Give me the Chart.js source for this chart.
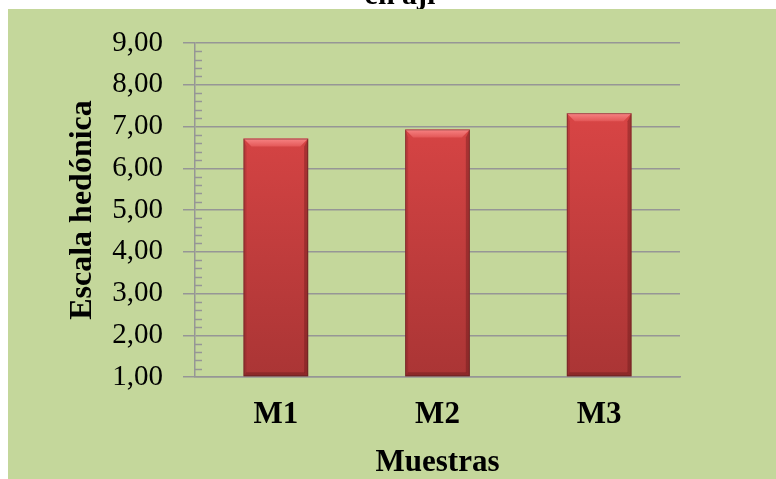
<!DOCTYPE html>
<html lang="es">
<head>
<meta charset="utf-8">
<title>Escala hedónica por muestra</title>
<script src="https://cdn.jsdelivr.net/npm/chart.js@4.4.1/dist/chart.umd.min.js"></script>
<style>
  html, body { margin: 0; padding: 0; background: #ffffff; }
  #wrap { width: 776px; height: 479px; }
</style>
</head>
<body>
<div id="wrap"><canvas id="hedonicChart" width="776" height="479"></canvas></div>
<script>
  const categories = ['M1', 'M2', 'M3'];
  const scores = [6.71, 6.93, 7.32];
  const yTickValues = [1, 2, 3, 4, 5, 6, 7, 8, 9];
  const yTickLabels = ['1,00', '2,00', '3,00', '4,00', '5,00', '6,00', '7,00', '8,00', '9,00'];

  const SERIF = '"Liberation Serif", "Times New Roman", serif';
  const GRID = '#969696';
  const PANEL = '#c4d79b';

  // panel background plus the tail of the title that sits above it
  const panelBackground = {
    id: 'panelBackground',
    beforeDraw(chart) {
      const { ctx, width, height } = chart;
      ctx.save();
      ctx.fillStyle = '#ffffff';
      ctx.fillRect(0, 0, width, height);
      ctx.fillStyle = '#000000';
      ctx.font = 'bold 30px ' + SERIF;
      ctx.textAlign = 'center';
      ctx.textBaseline = 'alphabetic';
      ctx.fillText('en ají', 400, 4);
      ctx.fillStyle = PANEL;
      ctx.fillRect(8, 9, width - 8, height - 9);
      ctx.restore();
    }
  };

  // small inside ticks between the major y gridlines
  const minorTicks = {
    id: 'minorTicks',
    afterDraw(chart) {
      const { ctx } = chart;
      const y = chart.scales.y;
      ctx.save();
      ctx.strokeStyle = GRID;
      ctx.lineWidth = 1.5;
      ctx.beginPath();
      for (let i = 0; i <= 40; i++) {
        if (i % 5 === 0) continue;
        const py = Math.round(y.getPixelForValue(1 + i / 5)) + 0.5;
        ctx.moveTo(y.right, py);
        ctx.lineTo(y.right + 7, py);
      }
      ctx.stroke();
      ctx.restore();
    }
  };

  // bevelled edges on each bar
  const barBevel = {
    id: 'barBevel',
    afterDatasetsDraw(chart) {
      const { ctx } = chart;
      chart.getDatasetMeta(0).data.forEach((bar) => {
        const { x, y, width, base } = bar.getProps(['x', 'y', 'width', 'base'], true);
        const l = x - width / 2, r = x + width / 2, t = y, b = base;
        const d = 8;
        ctx.save();

        const top = ctx.createLinearGradient(0, t, 0, t + d);
        top.addColorStop(0, '#f78484');
        top.addColorStop(1, '#e35757');
        ctx.fillStyle = top;
        ctx.beginPath();
        ctx.moveTo(l, t); ctx.lineTo(r, t); ctx.lineTo(r - d, t + d); ctx.lineTo(l + d, t + d);
        ctx.closePath(); ctx.fill();

        ctx.fillStyle = 'rgba(90, 20, 20, 0.35)';
        ctx.beginPath();
        ctx.moveTo(r, t); ctx.lineTo(r, b); ctx.lineTo(r - 4, b - 4); ctx.lineTo(r - 4, t + d);
        ctx.closePath(); ctx.fill();

        ctx.fillStyle = 'rgba(90, 20, 20, 0.18)';
        ctx.beginPath();
        ctx.moveTo(l, t); ctx.lineTo(l + 3, t + d); ctx.lineTo(l + 3, b - 4); ctx.lineTo(l, b);
        ctx.closePath(); ctx.fill();

        ctx.fillStyle = 'rgba(90, 20, 20, 0.35)';
        ctx.beginPath();
        ctx.moveTo(l, b); ctx.lineTo(r, b); ctx.lineTo(r - 4, b - 4); ctx.lineTo(l + 3, b - 4);
        ctx.closePath(); ctx.fill();

        ctx.strokeStyle = 'rgba(70, 30, 30, 0.45)';
        ctx.lineWidth = 1;
        ctx.strokeRect(l + 0.5, t + 0.5, width - 1, b - t - 1);
        ctx.restore();
      });
    }
  };

  new Chart(document.getElementById('hedonicChart'), {
    type: 'bar',
    data: {
      labels: categories,
      datasets: [{
        data: scores,
        base: 1,
        backgroundColor(context) {
          const area = context.chart.chartArea;
          if (!area) return '#c93f3f';
          const g = context.chart.ctx.createLinearGradient(0, 110, 0, area.bottom);
          g.addColorStop(0, '#d94545');
          g.addColorStop(1, '#aa3535');
          return g;
        },
        borderWidth: 0,
        categoryPercentage: 1,
        barPercentage: 0.4
      }]
    },
    options: {
      responsive: false,
      animation: false,
      layout: { padding: { left: 0, top: 43, right: 96, bottom: 0 } },
      plugins: {
        legend: { display: false },
        tooltip: { enabled: false },
        title: { display: false }
      },
      scales: {
        x: {
          grid: { display: false, drawTicks: false },
          border: { display: true, color: GRID, width: 1.5 },
          ticks: {
            color: '#000000',
            padding: 19,
            font: { family: SERIF, size: 31, weight: 'bold' }
          },
          title: {
            display: true,
            text: 'Muestras',
            color: '#000000',
            padding: { top: 0, bottom: -3 },
            font: { family: SERIF, size: 31, weight: 'bold' }
          },
          afterFit(scale) { scale.height = 102; }
        },
        y: {
          min: 1,
          max: 9,
          afterBuildTicks(scale) {
            scale.ticks = yTickValues.map((v) => ({ value: v }));
          },
          ticks: {
            color: '#000000',
            padding: 20,
            font: { family: SERIF, size: 29 },
            callback: (value, index) => yTickLabels[index]
          },
          grid: { color: GRID, lineWidth: 1.5, tickLength: 12, drawTicks: true },
          border: { color: GRID, width: 1.5 },
          title: {
            display: true,
            text: 'Escala hedónica',
            color: '#000000',
            padding: { top: 64, bottom: 0 },
            font: { family: SERIF, size: 32, weight: 'bold' }
          },
          afterFit(scale) { scale.width = 195; }
        }
      }
    },
    plugins: [panelBackground, minorTicks, barBevel]
  });
</script>
</body>
</html>
